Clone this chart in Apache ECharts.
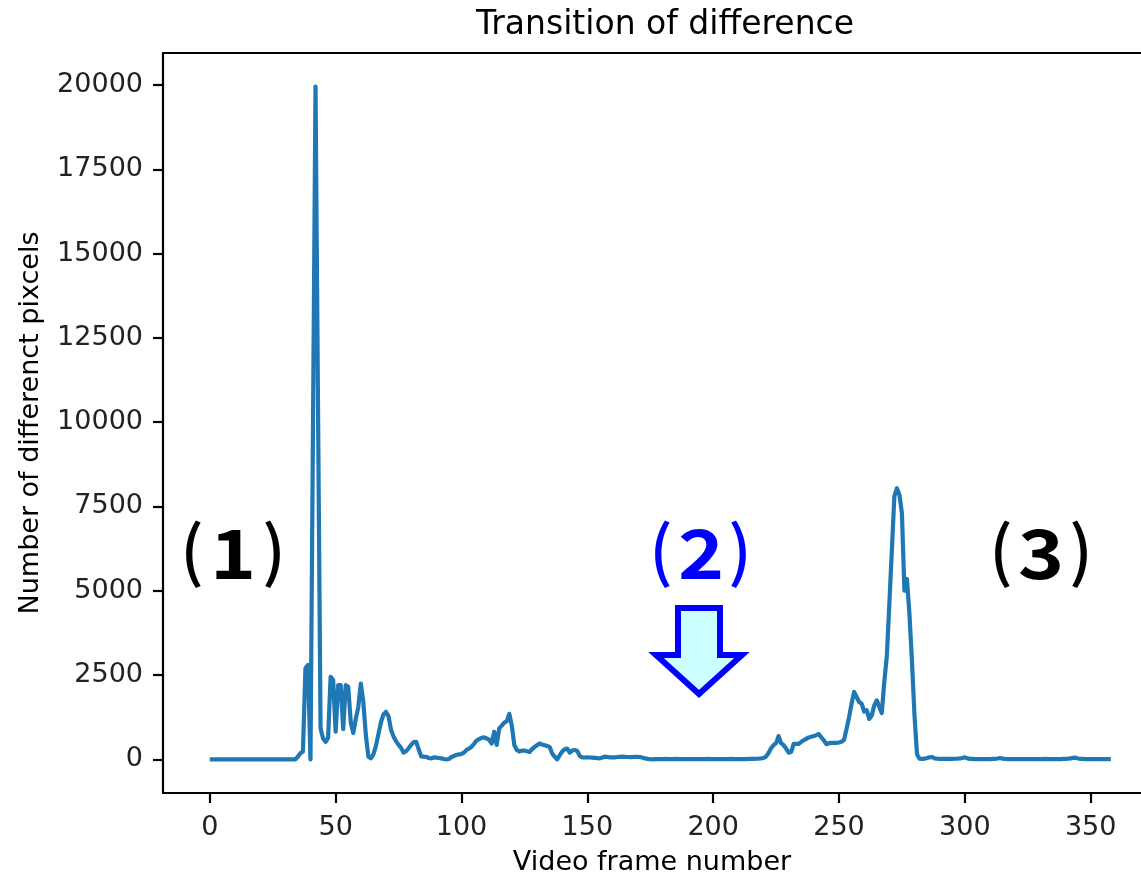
<!DOCTYPE html>
<html>
<head>
<meta charset="utf-8">
<script src="https://cdn.jsdelivr.net/npm/echarts@6/dist/echarts.min.js"></script>
<style>
html,body{margin:0;padding:0;background:#fff;}
#chart{width:1141px;height:876px;}
</style>
</head>
<body>
<div id="chart"></div>
<script>
// ---- data ----
const chartTitle = 'Transition of difference';
const xAxisTitle = 'Video frame number';
const yAxisTitle = 'Number of differenct pixcels';
const xTickValues = [0, 50, 100, 150, 200, 250, 300, 350];
const yTickValues = [0, 2500, 5000, 7500, 10000, 12500, 15000, 17500, 20000];
const xRange = [-18.6, 370];
const yRange = [-997.5, 20947.5];

// difference per frame, frames 0..358
const diffFrames0to34 = [0,0,0,0,0,0,0,0,0,0, 0,0,0,0,0,0,0,0,0,0, 0,0,0,0,0,0,0,0,0,0, 0,0,0,0,0];
const diffFrames35to99 = [80,180,230,2700,2800,0,9900,19950,10400,920,
  620,520,640,2450,2350,820,2200,2200,900,2200,
  2150,1100,780,1200,1550,2250,1700,720,80,30,
  150,400,750,1100,1330,1410,1280,880,680,540,
  430,340,200,240,330,430,510,520,300,90,
  80,75,40,30,60,50,40,30,10,0,
  10,70,100,130,150];
const diffFrames100to179 = [160,200,280,320,375,460,560,600,640,650,
  620,580,470,820,430,920,1000,1090,1130,1350,
  1000,420,280,230,260,260,240,220,300,360,
  420,470,440,420,400,370,180,80,0,120,
  230,300,320,200,260,280,250,100,60,55,
  60,55,50,45,35,30,55,80,70,60,
  60,60,70,75,80,75,70,65,70,75,
  75,70,50,30,15,5,0,5,8,10];
const diffFrames180to219 = [10,12,10,8,10,12,10,10,8,6,
  8,10,10,10,8,8,10,10,12,10,
  10,8,8,10,10,10,10,12,10,10,
  10,8,10,10,12,12,15,18,22,30];
const diffFrames220to289 = [40,80,190,330,420,480,690,480,420,320,
  200,220,460,460,460,520,570,610,650,670,
  690,720,750,650,560,450,480,490,490,490,
  500,520,580,900,1250,1650,2000,1850,1700,1650,
  1420,1460,1200,1300,1600,1750,1560,1370,2300,3050,
  4600,6200,7800,8040,7850,7300,5000,5350,4300,2900,
  1300,150,20,10,20,40,60,70,30,20];
const diffFrames290to358 = [15,15,12,12,15,15,18,20,25,40,
  60,30,15,12,10,10,10,10,10,10,
  10,12,15,25,40,20,12,10,10,10,
  10,10,10,10,10,10,10,10,10,10,
  10,10,12,10,10,10,10,10,10,12,
  15,20,30,45,50,25,15,12,10,10,
  10,10,10,10,10,10,10,10,10];

const diffValues = [].concat(diffFrames0to34, diffFrames35to99, diffFrames100to179,
  diffFrames180to219, diffFrames220to289, diffFrames290to358);
const seriesData = diffValues.map((v, i) => [i, v]);

// annotation labels: digit, colour, and glyph centres (left paren, digit, right paren)
const annotationDigits = ['1', '2', '3'];
const annotationColors = ['#000000', '#0000ff', '#000000'];
const annotationCenters = [[192, 233, 274], [661, 701, 740], [1001, 1041, 1081]];

// ---- chart ----
const chart = echarts.init(document.getElementById('chart'), null, {renderer: 'canvas'});
const font = 'DejaVu Sans';
const axisCol = '#000000';
const cjk = '"Noto Sans CJK JP", sans-serif';

const graphics = [];
annotationDigits.forEach((d, i) => {
  const c = annotationCenters[i];
  const col = annotationColors[i];
  graphics.push({type: 'text', z: 100, x: c[0], y: 550,
    style: {text: '(', x: 0, y: 0, fill: col, fontFamily: cjk, fontSize: 66, fontWeight: 500, align: 'center', verticalAlign: 'middle'}});
  graphics.push({type: 'text', z: 100, x: c[1], y: 553, scaleX: 1.15,
    style: {text: d, x: 0, y: 0, fill: col, fontFamily: cjk, fontSize: 68, fontWeight: 'bold', align: 'center', verticalAlign: 'middle'}});
  graphics.push({type: 'text', z: 100, x: c[2], y: 550,
    style: {text: ')', x: 0, y: 0, fill: col, fontFamily: cjk, fontSize: 66, fontWeight: 500, align: 'center', verticalAlign: 'middle'}});
});
graphics.push({
  type: 'polygon',
  z: 100,
  shape: {points: [[678,608],[720,608],[720,655],[742,655],[699,694],[656,655],[678,655]]},
  style: {fill: '#ccffff', stroke: '#0000ff', lineWidth: 6, lineJoin: 'miter'}
});

chart.setOption({
  animation: false,
  backgroundColor: '#ffffff',
  title: {
    text: chartTitle,
    left: 660,
    top: 4,
    textAlign: 'center',
    textStyle: {fontFamily: font, fontSize: 33, fontWeight: 'normal', color: '#000'}
  },
  grid: {
    left: 163, top: 53, right: 0, bottom: 83,
    outerBoundsMode: 'none',
    containLabel: false,
    show: false
  },
  xAxis: [{
    type: 'value',
    min: xRange[0], max: xRange[1],
    name: xAxisTitle,
    nameLocation: 'middle',
    nameGap: 56,
    nameTextStyle: {fontFamily: font, fontSize: 27, color: '#000'},
    axisLine: {show: true, onZero: false, lineStyle: {color: axisCol, width: 2.2}},
    axisTick: {show: true, length: 10, lineStyle: {color: axisCol, width: 2.2}, customValues: xTickValues},
    axisLabel: {fontFamily: font, fontSize: 27, color: '#222', margin: 21, customValues: xTickValues,
      formatter: v => String(v)},
    splitLine: {show: false}
  }, {
    type: 'value',
    position: 'top',
    min: xRange[0], max: xRange[1],
    axisLine: {show: true, onZero: false, lineStyle: {color: axisCol, width: 2.2}},
    axisTick: {show: false},
    axisLabel: {show: false},
    splitLine: {show: false}
  }],
  yAxis: {
    type: 'value',
    min: yRange[0], max: yRange[1],
    name: yAxisTitle,
    nameLocation: 'middle',
    nameRotate: 90,
    nameGap: 119,
    nameTextStyle: {fontFamily: font, fontSize: 27, color: '#000'},
    axisLine: {show: true, onZero: false, lineStyle: {color: axisCol, width: 2.2}},
    axisTick: {show: true, length: 10, lineStyle: {color: axisCol, width: 2.2}, customValues: yTickValues},
    axisLabel: {fontFamily: font, fontSize: 27, color: '#222', margin: 20, customValues: yTickValues,
      formatter: v => String(v)},
    splitLine: {show: false}
  },
  series: [{
    type: 'line',
    xAxisIndex: 0,
    data: seriesData,
    showSymbol: false,
    smooth: false,
    lineStyle: {color: '#1f77b4', width: 4.2, join: 'round'},
    itemStyle: {color: '#1f77b4'}
  }],
  graphic: graphics
});
</script>
</body>
</html>
